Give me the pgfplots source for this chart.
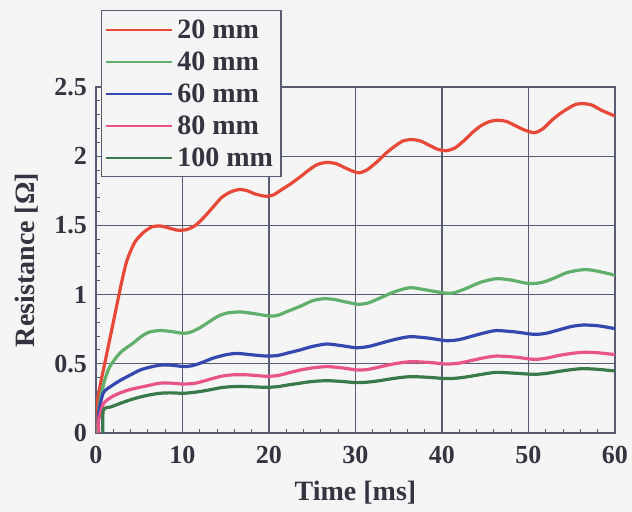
\documentclass[border=0pt]{standalone}
\usepackage{fontspec}
\setmainfont{Liberation Serif}
\usepackage{pgfplots}
\pgfplotsset{compat=1.18}

\definecolor{bgcol}{RGB}{245,245,246}
\definecolor{gridcol}{RGB}{88,92,115}
\definecolor{txtcol}{RGB}{52,52,64}
\definecolor{c20}{RGB}{232,72,56}
\definecolor{c40}{RGB}{96,176,108}
\definecolor{c60}{RGB}{52,72,176}
\definecolor{c80}{RGB}{232,84,136}
\definecolor{c100}{RGB}{58,122,74}

\begin{document}
\begin{tikzpicture}
\fill[bgcol] (-48pt,-39.5pt) rectangle (268pt,216.5pt);
\begin{axis}[
  scale only axis,
  width=259.5pt, height=173pt,
  xmin=0, xmax=60, ymin=0, ymax=2.5,
  xtick={0,10,...,60},
  ytick={0,0.5,1,1.5,2,2.5},
  yticklabels={0,0.5,1,1.5,2,2.5},
  minor x tick num=4,
  minor y tick num=4,
  tick pos=left,
  tick align=inside,
  major tick length=0pt,
  minor tick length=2pt,
  grid=major,
  major grid style={gridcol, line width=0.6pt},
  axis line style={gridcol, line width=0.7pt},
  every tick/.style={gridcol, line width=0.5pt},
  axis background/.style={fill=bgcol},
  /pgf/number format/assume math mode=true,
  ticklabel style={font=\fontsize{13}{14}\selectfont\bfseries, text=txtcol},
  xticklabel style={yshift=-3pt},
  yticklabel style={xshift=-1pt},
  xlabel={Time [ms]},
  ylabel={Resistance [Ω]},
  label style={font=\fontsize{14}{15}\selectfont\bfseries, text=txtcol},
  xlabel style={at={(axis description cs:0.5,-0.173)}, anchor=center},
  ylabel style={at={(axis description cs:-0.133,0.5)}, anchor=center},
  legend cell align=left,
  legend style={at={(axis description cs:0.0096,1.2225)}, anchor=north west,
    fill=bgcol, draw=gridcol, line width=0.6pt,
    font=\fontsize{14}{16}\selectfont\bfseries, text=txtcol,
    inner xsep=2pt, inner ysep=1.5pt, row sep=0pt,
    nodes={inner ysep=2.6pt, inner xsep=2pt, text height=9.8pt, text depth=1pt}},
  legend image code/.code={\draw[#1, line width=0.9pt] (0pt,0pt) -- (33pt,0pt);},
  every axis plot/.append style={line width=1.6pt, smooth, tension=0.45},
]
% 20 mm
\addplot[c20] coordinates {
(0,0) (0.1,0.2) (0.5,0.35) (1,0.5) (2,0.8) (3,1.1) (3.6,1.25) (4.5,1.38) (5.5,1.45)
(6.5,1.49) (7.5,1.495) (8.5,1.48) (9.5,1.465) (10.5,1.47) (11.5,1.5) (12.5,1.56)
(13.5,1.63) (14.5,1.7) (15.5,1.74) (16.6,1.76) (17.5,1.75) (18.5,1.725) (19.7,1.71)
(20.5,1.72) (21.5,1.76) (22.5,1.8) (23.6,1.85) (24.6,1.9) (25.6,1.94) (26.7,1.955)
(27.8,1.945) (29,1.91) (30.3,1.88) (31.3,1.9) (32.5,1.96) (33.5,2.02) (34.5,2.07)
(35.5,2.11) (36.5,2.12) (37.5,2.11) (38.5,2.08) (39.5,2.05) (40.5,2.04) (41.5,2.06)
(42.5,2.11) (43.5,2.17) (44.5,2.22) (45.5,2.25) (46.5,2.26) (47.5,2.25) (48.5,2.22)
(49.5,2.19) (50.7,2.17) (51.7,2.2) (52.7,2.26) (53.7,2.31) (54.7,2.35) (55.5,2.375)
(56.3,2.38) (57.3,2.37) (58.5,2.33) (60,2.29)
};
\addlegendentry{20 mm}
% 40 mm
\addplot[c40] coordinates {
(0.2,0) (0.3,0.15) (0.5,0.25) (1,0.38) (1.6,0.48) (2.8,0.58) (4.3,0.65) (5.3,0.7)
(6.2,0.73) (7.4,0.74) (8.5,0.735) (10.1,0.72) (11,0.73) (12,0.76) (13,0.8) (14,0.84)
(15,0.865) (16.6,0.875) (18,0.865) (20.1,0.845) (21,0.85) (22,0.875) (23.6,0.915)
(25,0.955) (26.3,0.97) (27.5,0.965) (29,0.945) (30.3,0.93) (31.5,0.94) (33,0.98)
(34.5,1.02) (36.3,1.05) (38,1.035) (40.5,1.01) (41.5,1.015) (43,1.05) (44.5,1.09)
(46.3,1.115) (48,1.105) (49.5,1.085) (50.6,1.08) (51.7,1.09) (53,1.12) (54.5,1.16)
(56.3,1.18) (57.5,1.175) (59,1.155) (60,1.14)
};
\addlegendentry{40 mm}
% 60 mm
\addplot[c60] coordinates {
(0.3,0) (0.3,0.14) (0.85,0.29) (1.8,0.34) (2.8,0.38) (4,0.42) (5.1,0.455) (6.2,0.475)
(7.4,0.49) (8.7,0.49) (10.1,0.48) (11,0.485) (12,0.503) (13.5,0.54) (15,0.565)
(16.3,0.575) (18,0.565) (19.7,0.556) (21,0.56) (22.3,0.58) (23.6,0.6) (25,0.625)
(26.7,0.643) (28.5,0.63) (30.1,0.616) (31.5,0.625) (33,0.65) (34.5,0.675) (36.3,0.696)
(38.5,0.685) (40.5,0.667) (42,0.675) (43.5,0.7) (45,0.725) (46.3,0.74) (48.5,0.73)
(50.6,0.713) (52,0.72) (53.5,0.745) (55,0.77) (56.3,0.78) (58,0.775) (60,0.754)
};
\addlegendentry{60 mm}
% 80 mm
\addplot[c80] coordinates {
(0.3,0) (0.3,0.09) (0.85,0.21) (1.8,0.26) (2.8,0.29) (4,0.315) (5.1,0.33) (6.2,0.345)
(7.4,0.36) (8.7,0.36) (10.1,0.354) (11.5,0.36) (13,0.385) (14.5,0.41) (15.8,0.42)
(17.5,0.42) (19.7,0.41) (21,0.415) (22.3,0.435) (23.6,0.455) (25,0.47) (26.7,0.48)
(28.5,0.47) (30.3,0.455) (31.5,0.46) (33,0.48) (34.5,0.5) (36.3,0.515) (38.5,0.51)
(40.5,0.498) (42,0.505) (43.5,0.525) (45,0.545) (46.3,0.556) (48.5,0.548) (50.6,0.532)
(52,0.54) (53.5,0.56) (55,0.575) (56.3,0.583) (58,0.58) (60,0.566)
};
\addlegendentry{80 mm}
% 100 mm
\addplot[c100] coordinates {
(0.8,0) (0.85,0.165) (1.8,0.19) (2.8,0.214) (4,0.24) (5.1,0.26) (6.2,0.275) (7.4,0.287)
(8.7,0.29) (10.1,0.287) (11.5,0.295) (13,0.31) (14.5,0.328) (15.8,0.335) (17.5,0.335)
(19.7,0.33) (21,0.335) (22.3,0.348) (23.6,0.36) (25,0.372) (26.7,0.378) (28.5,0.372)
(30.1,0.364) (31.5,0.368) (33,0.38) (34.5,0.395) (36.3,0.407) (38.5,0.402) (40.5,0.393)
(42,0.398) (43.5,0.412) (45,0.428) (46.3,0.438) (48.5,0.432) (50.6,0.424) (52,0.43)
(53.5,0.445) (55,0.458) (56.3,0.465) (58,0.46) (60,0.448)
};
\addlegendentry{100 mm}
\end{axis}
\pgfresetboundingbox
\path[use as bounding box] (-48pt,-39.5pt) rectangle (268pt,216.5pt);
\end{tikzpicture}
\end{document}
